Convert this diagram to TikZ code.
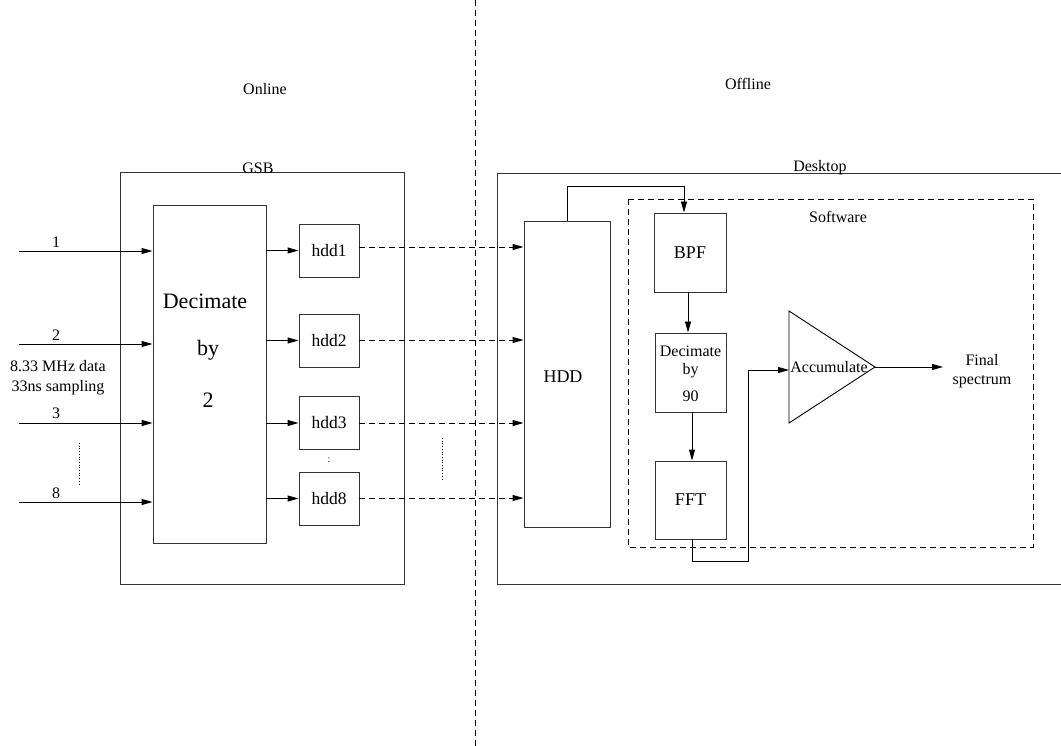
\documentclass[tikz,border=0pt]{standalone}
\usepackage{fontspec}
\setmainfont{Liberation Serif}
\usetikzlibrary{arrows.meta,calc}
\tikzset{
  box/.style={draw, line width=0.9pt, inner sep=0pt, draw=black!80},
  arr/.style={line width=0.9pt, -{Triangle[length=11pt,width=6pt]}},
  darr/.style={line width=0.9pt, dash pattern=on 6pt off 4pt, -{Triangle[length=11pt,width=6pt]}},
  lbl/.style={inner sep=0pt, font=\fontsize{16}{19}\selectfont},
  big/.style={inner sep=0pt, font=\fontsize{22}{26}\selectfont},
  mid/.style={inner sep=0pt, font=\fontsize{18}{21}\selectfont},
}
\begin{document}
\begin{tikzpicture}[x=1pt,y=-1pt]
\useasboundingbox (0,0) rectangle (1061,746);
% divider
\draw[line width=0.9pt, dash pattern=on 6pt off 4pt] (475,0) -- (475,746);
\node[lbl] (online) at (265,89) {Online};
\node[lbl] (offline) at (748,84) {Offline};
% GSB
\node[box, minimum width=284pt, minimum height=412pt] (gsb) at (262,378) {};
\node[lbl] (gsblbl) at (258,168) {GSB};
\node[box, minimum width=113pt, minimum height=338pt] (dec2) at (209.5,374) {};
\node[big] (d2a) at (205,301) {Decimate};
\node[big] (d2b) at (208,350) {by};
\node[big] (d2c) at (208,400) {2};
\foreach \n/\y in {1/250.5,2/340.5,3/423,8/498.5}{
  \node[box, minimum width=60pt, minimum height=53pt, font=\fontsize{17.5}{20}\selectfont] (hdd\n) at (329,\y) {hdd\n};
}
\node[inner sep=0pt, font=\fontsize{10}{12}\selectfont] (hdots) at (329,460) {:};
% inputs
\foreach \n/\y/\ly in {1/251/242,2/344/335,3/423/413,8/502/493}{
  \coordinate (in\n) at (19,\y);
  \draw[arr] (in\n) -- (in\n -| dec2.west);
  \node[lbl] (inl\n) at (56,\ly) {\n};
}
\node[lbl] (rate) at (58,366) {8.33 MHz data};
\node[lbl] (samp) at (58,388) {33ns sampling};
\coordinate (dotA1) at (79,443); \coordinate (dotA2) at (79,484);
\draw[line width=0.7pt, dotted] (dotA1) -- (dotA2);
% dec2 -> hdd
\foreach \n in {1,2,3,8}{
  \draw[arr] (hdd\n.west -| dec2.east) -- (hdd\n.west);
}
% Desktop
\coordinate (dtl) at (497,173); \coordinate (dbr) at (1064,584);
\draw[line width=0.9pt, draw=black!80] (dtl) rectangle (dbr);
\node[lbl] (desklbl) at (820,168) {Desktop};
\node[box, minimum width=86pt, minimum height=306pt] (HDD) at (567,374) {};
\node[mid] (hddlbl) at (563,377) {HDD};
% hdd -> HDD dashed
\foreach \n/\dy in {1/-3.5,2/-0.5,3/0,8/-0.5}{
  \coordinate (s\n) at ($(hdd\n.east)+(0,\dy)$);
  \draw[darr] (s\n) -- (s\n -| HDD.west);
}
\coordinate (dotB1) at (442,438); \coordinate (dotB2) at (442,480);
\draw[line width=0.7pt, dotted] (dotB1) -- (dotB2);
% Software
\coordinate (stl) at (628,199); \coordinate (sbr) at (1033,547);
\draw[line width=0.9pt, dash pattern=on 6pt off 4pt] (stl) rectangle (sbr);
\node[lbl] (swlbl) at (838,217) {Software};
\node[box, minimum width=72pt, minimum height=79pt, font=\fontsize{18}{21}\selectfont] (BPF) at (690,252.5) {BPF};
\node[box, minimum width=71pt, minimum height=79pt] (dec90) at (690.5,372.5) {};
\node[lbl] (d9a) at (690.5,351) {Decimate};
\node[lbl] (d9b) at (690.5,371) {by};
\node[lbl] (d9c) at (690.5,396) {90};
\node[box, minimum width=71pt, minimum height=78pt, font=\fontsize{18}{21}\selectfont] (FFT) at (690.5,500) {FFT};
% HDD -> BPF
\draw[arr] (HDD.north) -- ++(0,-34) -| ([xshift=-6pt]BPF.north);
\draw[arr] ([xshift=-2pt]BPF.south) -- ([xshift=-2.5pt]dec90.north);
\draw[arr] ([xshift=1.5pt]dec90.south) -- ([xshift=1.5pt]FFT.north);
% Accumulate triangle
\coordinate (t1) at (789,311); \coordinate (t2) at (789,423); \coordinate (apex) at (875,367);
\draw[line width=0.9pt] (t1) -- (apex) -- (t2) -- cycle;
\node[lbl] (acclbl) at (829,367) {Accumulate};
\coordinate (bend) at (748,561);
\coordinate (accin) at (789,370);
\draw[arr] ([xshift=1.5pt]FFT.south) |- (bend) |- (accin);
\coordinate (fout) at (943,367);
\draw[arr] (apex) -- (fout);
\node[lbl, align=center] (final) at (982,371) {Final\\spectrum};
\end{tikzpicture}
\end{document}
